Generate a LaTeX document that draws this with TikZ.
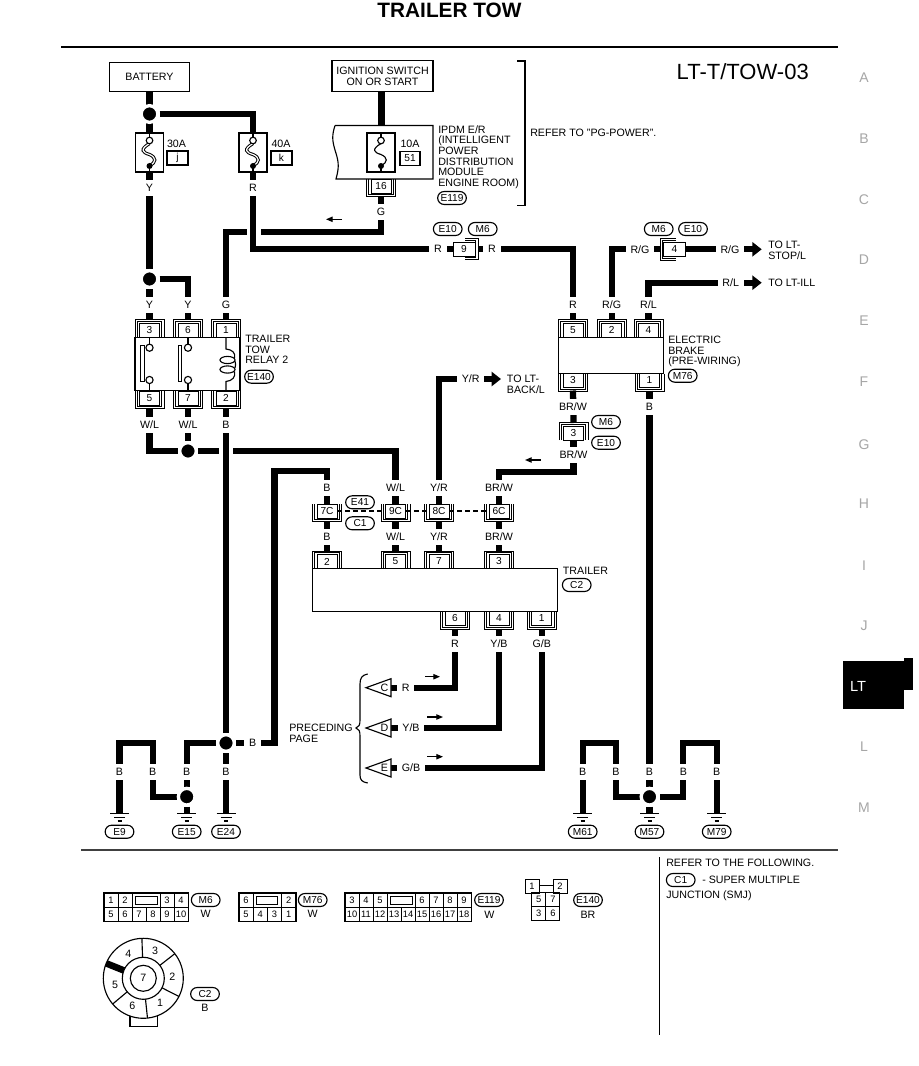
\documentclass[tikz,border=0pt]{standalone}
\usepackage{fontspec}
\setmainfont{Liberation Sans}
\usetikzlibrary{arrows.meta,shapes.misc,calc}
\pgfdeclarelayer{bg}\pgfdeclarelayer{wires}\pgfsetlayers{bg,wires,main}
\newcommand{\labf}{\fontsize{8}{8}\selectfont}
\newcommand{\pinf}{\fontsize{7.6}{7.6}\selectfont}
\newcommand{\cellf}{\fontsize{7}{7}\selectfont}
\tikzset{
 ln/.style={line width=0.85pt},
 brk/.style={line width=0.6pt},
 wire/.style={line width=4.7pt,line join=miter},
 wiretip/.style={wire,-{Triangle[length=7pt,width=10.5pt,inset=0pt]}},
 thintip/.style={line width=0.9pt,-{Triangle[length=5pt,width=4pt,inset=0pt]}},
 wirelab/.style={fill=white,inner xsep=3.5pt,inner ysep=0pt,minimum height=12pt,font=\labf},
 txt/.style={font=\labf,inner sep=0pt},
 blocktxt/.style={font=\labf,inner sep=0pt,anchor=north west,align=left},
 pinbox/.style={draw,line width=0.7pt,fill=white,minimum width=15pt,minimum height=10.5pt,inner sep=0pt,font=\pinf},
 tagbox/.style={draw,ln,fill=white,minimum width=15.75pt,minimum height=10.5pt,inner sep=0pt,font=\pinf},
 compbox/.style={draw,ln,fill=white,inner sep=0pt},
 ovaltag/.style={rounded rectangle,draw,ln,fill=white,minimum width=21.5pt,minimum height=9.75pt,inner sep=0pt,font=\pinf},
 jdot/.style={circle,fill=black,draw=white,line width=2.5pt,minimum size=12.5pt,inner sep=0pt},
 opendot/.style={draw,ln,fill=white},
 cellbox/.style={draw,line width=0.7pt,minimum width=10.5pt,minimum height=10.5pt,inner sep=0pt,font=\cellf},
 slotbox/.style={draw,line width=0.7pt,minimum width=21pt,minimum height=10.5pt,inner sep=0pt},
 tabletter/.style={font=\fontsize{10.5}{10.5}\selectfont,text=black!35,inner sep=0pt},
}
\newcommand{\PinUp}[4]{%
 \node[pinbox] (#1) at (#2,#3) {#4};
 \begin{scope}[shift={(#2,#3)}]
 \draw[brk] (-14.5,7) -- (-14.5,-10.4) -- (14.5,-10.4) -- (14.5,7);
 \draw[brk] (-12.3,7) -- (-12.3,-8.7) -- (12.3,-8.7) -- (12.3,7);
 \coordinate (#1o) at (0,-10);
 \end{scope}}
\newcommand{\PinDn}[4]{%
 \node[pinbox] (#1) at (#2,#3) {#4};
 \begin{scope}[shift={(#2,#3)}]
 \draw[brk] (-14.5,-7) -- (-14.5,10.4) -- (14.5,10.4) -- (14.5,-7);
 \draw[brk] (-12.3,-7) -- (-12.3,8.7) -- (12.3,8.7) -- (12.3,-7);
 \coordinate (#1o) at (0,10);
 \end{scope}}
\newcommand{\OvalTag}[4]{\node[ovaltag] (#1) at (#2,#3) {#4};}
\newcommand{\WL}[4]{\node[wirelab] (#1) at (#2,#3) {#4};}
\newcommand{\FuseSym}[3]{% name x, double or single curve style
 \node[compbox,minimum width=21pt,minimum height=29.25pt] (#1) at (#2,152.5) {};
 \begin{scope}[shift={(#2,152.5)}]
 \draw[ln] (0,-19.5) -- (0,-12);
 \draw[ln] (0,13) -- (0,19.5);
 \draw[#3] (0,-9) .. controls (-10,-3) and (-7,0) .. (0,2) .. controls (7,5) and (7,10) .. (0,13);
 \draw[opendot] (0,-12) circle[radius=3.3];
 \fill (0,13.5) circle[radius=3];
 \end{scope}}
\newcommand{\GndSym}[3]{%
 \coordinate (g#1) at (#2,813.5);
 \begin{scope}[shift={(#2,813.5)}]
 \draw[ln] (-9.5,0) -- (9.5,0);
 \draw[ln] (-5.5,3.8) -- (5.5,3.8);
 \draw[ln] (-2,7.5) -- (2,7.5);
 \end{scope}
 \OvalTag{ov#1}{#2}{831.7}{#3}}
\newcommand{\TriTag}[3]{%
 \draw[ln,fill=white] (366,#2) -- (391,#2-9) -- (391,#2+9) -- cycle;
 \node[txt] (tri#1) at (384.5,#2) {#3};
 \coordinate (tri#1e) at (391,#2);}
\newcommand{\DirArrow}[4]{%
 \coordinate (#1s) at (#2,#4);
 \coordinate (#1e) at (#3,#4);
 \draw[thintip] (#1s) -- (#1e);}
\begin{document}
\begin{tikzpicture}[x=0.75pt,y=-0.75pt]
\begin{pgfonlayer}{bg}
\fill[white] (0,0) rectangle (918,1066);
\end{pgfonlayer}
\useasboundingbox (0,0) rectangle (918,1066);

% header
\node[font=\bfseries\fontsize{15.6}{16}\selectfont,inner sep=0pt] (title) at (449.5,10) {TRAILER TOW};
\draw[line width=2.2pt] (61,47) -- (838,47);
\node[font=\fontsize{16.5}{18}\selectfont,inner sep=0pt,anchor=east] (pageid) at (809,72) {LT-T/TOW-03};

% side tabs
\foreach \tabT/\tabY in {A/78,B/139,C/200,D/260,E/321,F/382,G/445,H/504,I/566,J/626,L/747,M/808}
 {\node[tabletter] (tab\tabT) at (864,\tabY) {\tabT};}
\fill (842.7,660.7) rectangle (904,709.3);
\fill (904,658) rectangle (913,690);
\node[font=\fontsize{11}{11}\selectfont,text=white,inner sep=0pt] (tabLT) at (858,686) {LT};

% sources
\node[compbox,minimum width=60pt,minimum height=22pt,font=\labf] (bat) at (149.5,77.2) {BATTERY};
\node[compbox,minimum width=75.8pt,minimum height=23.4pt,font=\labf,align=center] (ign) at (382.5,76.3) {IGNITION SWITCH\\ON OR START};

% fuses
\FuseSym{fj}{149.5}{line width=0.75pt,double=white,double distance=0.9pt}
\FuseSym{fk}{253}{line width=0.75pt,double=white,double distance=0.9pt}
\node[txt] (a30) at (176.5,144) {30A};
\node[tagbox] (tagj) at (177.5,158) {j};
\node[txt] (a40) at (281,144) {40A};
\node[tagbox] (tagk) at (281.5,158) {k};

% IPDM
\draw[ln,fill=white] (335,125.5) -- (433,125.5) -- (433,179) -- (336,179) .. controls (340,165) and (338,160) .. (335,150) .. controls (332,140) and (332,135) .. (335,125.5);
\coordinate (ipdmtop) at (381.5,125.5);
\FuseSym{fl}{381}{ln}
\node[txt] (a10) at (410,144) {10A};
\node[tagbox,minimum width=15pt] (tagl) at (410,158.5) {51};
\PinDn{p16}{381}{186}{16}
\node[blocktxt] (ipdmt) at (438,125.2) {IPDM E/R\\(INTELLIGENT\\POWER\\DISTRIBUTION\\MODULE\\ENGINE ROOM)};
\OvalTag{ovE119a}{452}{198}{E119}
\draw[ln] (517,61) -- (525,61) -- (525,205.7) -- (517,205.7);
\node[txt,anchor=west] (refpg) at (530,133) {REFER TO "PG-POWER".};

% connector 9
\node[pinbox,minimum width=16.5pt,minimum height=11pt] (c9) at (464,249.3) {9};
\draw[brk] (465,238.5) -- (478,238.5) -- (478,259.7) -- (465,259.7);
\draw[brk] (465,240.5) -- (475.7,240.5) -- (475.7,257.7) -- (465,257.7);
\coordinate (c9o) at (478,249.3);
\OvalTag{ovE10a}{447.7}{229}{E10}
\OvalTag{ovM6a}{482.7}{229}{M6}

% connector 4
\node[pinbox,minimum width=16pt,minimum height=11pt] (c4) at (674.5,249.3) {4};
\draw[brk] (676,238.5) -- (660,238.5) -- (660,260) -- (676,260);
\draw[brk] (676,240.5) -- (662.1,240.5) -- (662.1,258) -- (676,258);
\coordinate (c4o) at (660,249.3);
\OvalTag{ovM6b}{658.7}{229}{M6}
\OvalTag{ovE10b}{693}{229}{E10}

% relay
\node[compbox,minimum width=78.75pt,minimum height=40pt] (relay) at (187.5,364) {};
\PinUp{pr3}{149.5}{330}{3}
\PinUp{pr6}{188}{330}{6}
\PinUp{pr1}{226}{330}{1}
\PinDn{pr5}{149.5}{398}{5}
\PinDn{pr7}{188}{398}{7}
\PinDn{pr2}{226}{398}{2}
\foreach \sw/\bx in {149.5/140.7,188/178.3}{
 \draw[ln] (\sw,337.5) -- (\sw,344);
 \draw[ln] (\sw,384) -- (\sw,391);
 \draw[opendot] (\sw,347.7) circle[radius=3.6];
 \draw[opendot] (\sw,380) circle[radius=3.6];
 \draw[ln] (\bx,345.7) rectangle (\bx+3.6,381.7);
}
\draw[ln] (226,337.5) -- (226,349) .. controls (232,349.5) and (236,353) .. (234.5,358);
\draw[ln] (227.5,360) ellipse[x radius=7.5,y radius=3.6];
\draw[ln] (227.5,369.5) ellipse[x radius=7.5,y radius=3.6];
\draw[ln] (235,361) .. controls (235.8,363) and (235.8,366) .. (235,368);
\draw[ln] (234.5,371.5) .. controls (236,377) and (232,381) .. (226,381.5) -- (226,391);
\node[blocktxt] (relayt) at (245,334.8) {TRAILER\\TOW\\RELAY 2};
\OvalTag{ovE140a}{259}{376.7}{E140}

% electric brake
\node[compbox,minimum width=78.75pt,minimum height=27pt] (brake) at (610.8,355.3) {};
\PinUp{pb5}{573}{330}{5}
\PinUp{pb2}{611.7}{330}{2}
\PinUp{pb4}{648.5}{330}{4}
\PinDn{pb3}{573}{380.5}{3}
\PinDn{pb1}{649.5}{380.5}{1}
\node[blocktxt] (braket) at (668,335.8) {ELECTRIC\\BRAKE\\(PRE-WIRING)};
\OvalTag{ovM76a}{682.7}{375.7}{M76}

% connector 3 (M6/E10)
\PinUp{pm3}{573.5}{433}{3}
\OvalTag{ovM6c}{606}{422}{M6}
\OvalTag{ovE10c}{606}{442.7}{E10}

% SMJ connectors
\PinDn{p7c}{327}{511}{7C}
\PinDn{p9c}{395.5}{511}{9C}
\PinDn{p8c}{439}{511}{8C}
\PinDn{p6c}{499}{511}{6C}
\OvalTag{ovE41}{360}{502.3}{E41}
\OvalTag{ovC1a}{360}{523.3}{C1}

% trailer
\node[compbox,minimum width=183.75pt,minimum height=32.4pt] (trailer) at (435.2,590) {};
\PinUp{pt2}{327}{561.5}{2}
\PinUp{pt5}{395.5}{561.5}{5}
\PinUp{pt7}{439}{561.5}{7}
\PinUp{pt3}{499}{561.5}{3}
\PinDn{pt6}{455}{618.5}{6}
\PinDn{pt4}{499}{618.5}{4}
\PinDn{pt1}{541.7}{618.5}{1}
\node[txt,anchor=west] (trailert) at (562.7,570.7) {TRAILER};
\OvalTag{ovC2a}{576.7}{585}{C2}

% preceding page
\TriTag{C}{687.7}{C}
\TriTag{D}{728}{D}
\TriTag{E}{768}{E}
\draw[ln] (367.7,674) .. controls (362,675) and (360,678) .. (360,684) -- (360,720) .. controls (360,725) and (359,727) .. (356,728) .. controls (359,729) and (360,731) .. (360,736) -- (360,775) .. controls (360,780) and (362,782) .. (367.7,783);
\node[blocktxt] (prect) at (289,724) {PRECEDING\\PAGE};

% junction dots
\node[jdot] (d1) at (149.5,114) {};
\node[jdot] (d2) at (149.5,279) {};
\node[jdot] (d3) at (188,451) {};
\node[jdot] (d4) at (226,743) {};
\node[jdot] (d5) at (186.7,796.7) {};
\node[jdot] (d6) at (649.5,796.7) {};

% grounds
\GndSym{9}{119.5}{E9}
\GndSym{15}{186.7}{E15}
\GndSym{24}{226}{E24}
\GndSym{61}{582.7}{M61}
\GndSym{57}{649.5}{M57}
\GndSym{79}{716.7}{M79}

% wire labels
\WL{wa}{149.5}{188}{Y}
\WL{wb}{253}{188}{R}
\WL{wc}{381}{212}{G}
\WL{wd}{438}{249.3}{R}
\WL{we}{492}{249.3}{R}
\WL{wf}{149.5}{305}{Y}
\WL{wg}{188}{305}{Y}
\WL{wh}{226}{305}{G}
\WL{wi}{573}{305}{R}
\WL{wj}{611.7}{305}{R/G}
\WL{wk}{648.5}{305}{R/L}
\WL{wl}{640}{249.3}{R/G}
\WL{wm}{730}{249.3}{R/G}
\WL{wn}{730.7}{282.7}{R/L}
\WL{wo}{470.7}{379}{Y/R}
\WL{wp}{149.5}{425}{W/L}
\WL{wq}{188}{425}{W/L}
\WL{wr}{226}{425}{B}
\WL{ws}{573}{407}{BR/W}
\WL{wt}{649.5}{407}{B}
\WL{wu}{573.5}{455}{BR/W}
\WL{wv}{327}{488}{B}
\WL{ww}{395.5}{488}{W/L}
\WL{wx}{439}{488}{Y/R}
\WL{wy}{499}{488}{BR/W}
\WL{xa}{327}{536.7}{B}
\WL{xb}{395.5}{536.7}{W/L}
\WL{xc}{439}{536.7}{Y/R}
\WL{xd}{499}{536.7}{BR/W}
\WL{xe}{455}{644}{R}
\WL{xf}{499}{644}{Y/B}
\WL{xg}{541.7}{644}{G/B}
\WL{xh}{405.7}{687.7}{R}
\WL{xi}{411}{728}{Y/B}
\WL{xj}{411}{768}{G/B}
\WL{xk}{252.7}{743}{B}
\foreach \bX/\bN in {119.5/ya,152.7/yb,186.7/yc,226/yd,582.7/ye,616/yf,649.5/yg,683.3/yh,716.7/yi}
 {\WL{\bN}{\bX}{772}{B}}

% direction arrows
\DirArrow{da}{342}{326}{219.3}
\DirArrow{db}{540.7}{525}{460}
\DirArrow{dc}{425}{440}{676.7}
\DirArrow{dd}{427}{443}{717}
\DirArrow{de}{427}{443}{756.7}

% arrow text
\node[blocktxt] (toback) at (506.7,375) {TO LT-\\BACK/L};
\node[blocktxt] (tostop) at (768,241) {TO LT-\\STOP/L};
\node[txt,anchor=west] (toill) at (768,283) {TO LT-ILL};

% bend points
\coordinate (gA) at (260.5,231.7);
\coordinate (gB) at (246.5,231.7);
\coordinate (wlA) at (219,451);
\coordinate (wlB) at (233,451);
\coordinate (t1) at (152.7,743);
\coordinate (t2) at (274.5,471);
\coordinate (t3) at (499,471.7);
\coordinate (t61) at (616,743);
\coordinate (t79) at (683.3,743);
\coordinate (aYR) at (501,379);
\coordinate (aRG) at (761.7,249.3);
\coordinate (aRL) at (761.7,282.7);

\begin{pgfonlayer}{wires}
\draw[wire] (bat.south) -- (fj.north);
\draw[wire] (d1) -| (fk.north);
\draw[wire] (fj.south) -- (d2);
\draw[wire] (d2) -- (pr3o);
\draw[wire] (d2) -| (pr6o);
\draw[wire] (fk.south) |- (c9.west);
\draw[wire] (c9o) -| (pb5o);
\draw[wire] (ign.south -| ipdmtop) -- (ipdmtop);
\draw[wire] (p16o) |- (gA);
\draw[wire] (gB) -| (pr1o);
\draw[wire] (pr5o) |- (d3);
\draw[wire] (pr7o) -- (d3);
\draw[wire] (d3) -- (wlA);
\draw[wire] (wlB) -| (p9c.north);
\draw[wire] (pr2o) -- (d4);
\draw[wire] (d4) -- (g24);
\draw[wire] (d4) -| (d5);
\draw[wire] (d5) -- (g15);
\draw[wire] (g9) |- (t1) |- (d5);
\draw[wire] (d4) -| (t2) -| (p7c.north);
\draw[wire] (p7co) -- (pt2o);
\draw[wire] (p9co) -- (pt5o);
\draw[wire] (p8co) -- (pt7o);
\draw[wire] (p6co) -- (pt3o);
\draw[wiretip] (p8c.north) |- (aYR);
\draw[wire] (pb2o) |- (c4o);
\draw[wiretip] (c4.east) -- (aRG);
\draw[wiretip] (pb4o) |- (aRL);
\draw[wire] (pb3o) -- (pm3o);
\draw[wire] (pm3.south) |- (t3) -- (p6c.north);
\draw[wire] (pb1o) -- (d6);
\draw[wire] (d6) -- (g57);
\draw[wire] (g61) |- (t61) |- (d6);
\draw[wire] (g79) |- (t79) |- (d6);
\draw[wire] (pt6o) |- (triCe);
\draw[wire] (pt4o) |- (triDe);
\draw[wire] (pt1o) |- (triEe);
\draw[ln,dash pattern=on 3.5pt off 2.5pt] (p7c.east) -- (p9c.west);
\draw[ln,dash pattern=on 3.5pt off 2.5pt] (p9c.east) -- (p8c.west);
\draw[ln,dash pattern=on 3.5pt off 2.5pt] (p8c.east) -- (p6c.west);
\end{pgfonlayer}

% lower panel
\draw[line width=1.1pt,black!75] (81,850) -- (838,850);
\draw[line width=0.9pt] (659.5,857) -- (659.5,1035);
\node[txt,anchor=west] (nt1) at (666,863) {REFER TO THE FOLLOWING.};
\OvalTag{ovC1b}{680.7}{880}{C1}
\node[txt,anchor=west] (nt2) at (702,880) {- SUPER MULTIPLE};
\node[txt,anchor=west] (nt3) at (666,896) {JUNCTION (SMJ)};

% M6 connector
\foreach \cT [count=\cI from 0] in {5,6,7,8,9,10}
 {\node[cellbox] (mb\cI) at ({111+14*\cI},914) {\cT};}
\foreach \cT/\cX/\cN in {1/111/a,2/125/b,3/167/c,4/181/d}
 {\node[cellbox] (mt\cN) at (\cX,900) {\cT};}
\node[slotbox] (ms) at (146,900) {};
\draw[line width=0.7pt] (135,896.5) rectangle (157.5,904);
\draw[line width=1.1pt] (mta.north west) rectangle (mb5.south east);
\OvalTag{ovM6d}{205.7}{900}{M6}
\node[txt] (m6w) at (205.7,914) {W};

% M76 connector
\foreach \cT [count=\cI from 0] in {5,4,3,1}
 {\node[cellbox] (nb\cI) at ({246+14.2*\cI},914) {\cT};}
\node[cellbox] (nta) at (246,900) {6};
\node[cellbox] (ntb) at (288.6,900) {2};
\node[slotbox] (ns) at (267.3,900) {};
\draw[line width=0.7pt] (256,896.5) rectangle (277.7,904);
\draw[line width=1.1pt] (nta.north west) rectangle (nb3.south east);
\OvalTag{ovM76b}{312.7}{900}{M76}
\node[txt] (m76w) at (312.7,914) {W};

% E119 connector
\foreach \cT [count=\cI from 0] in {10,11,12,13,14,15,16,17,18}
 {\node[cellbox] (eb\cI) at ({352+14*\cI},914) {\cT};}
\foreach \cT/\cX/\cN in {3/352/a,4/366/b,5/380/c,6/422/d,7/436/e,8/450/f,9/464/g}
 {\node[cellbox] (et\cN) at (\cX,900) {\cT};}
\node[slotbox] (es) at (401,900) {};
\draw[line width=0.7pt] (390,896.5) rectangle (412,904);
\draw[line width=1.1pt] (eta.north west) rectangle (eb8.south east);
\OvalTag{ovE119b}{489}{900}{E119}
\node[txt] (e119w) at (489.5,915) {W};

% E140 connector
\node[cellbox] (ra) at (532,886) {1};
\node[cellbox] (rb) at (560,886) {2};
\node[cellbox] (rc) at (538.7,899) {5};
\node[cellbox] (rd) at (552.9,899) {7};
\node[cellbox] (re) at (538.7,913.5) {3};
\node[cellbox] (rf) at (552.9,913.5) {6};
\draw[line width=0.7pt] (ra.east |- 0,885) -- (rb.west |- 0,885);
\OvalTag{ovE140b}{588}{900}{E140}
\node[txt] (e140w) at (588,915) {BR};

% C2 round connector
\coordinate (c2c) at (143.3,978.3);
\draw[ln] (130,1005) -- (130,1026.7) -- (157.7,1026.7) -- (157.7,1005);
\node[circle,draw,ln,fill=white,minimum size=60pt,inner sep=0pt] (c2out) at (c2c) {};
\foreach \segA in {-92,-38,27,84,140}
 {\draw[ln] ($(c2c)+(\segA:21)$) -- ($(c2c)+(\segA:40)$);}
\draw[line width=5pt] ($(c2c)+(-158:21)$) -- ($(c2c)+(-158:40)$);
\node[circle,draw,ln,fill=white,minimum size=31.5pt,inner sep=0pt] (c2ring) at (c2c) {};
\node[circle,draw,ln,fill=white,minimum size=19.5pt,inner sep=0pt,font=\labf] (c2seven) at (c2c) {7};
\node[txt] (s3) at (155,951) {3};
\node[txt] (s4) at (128.3,954.3) {4};
\node[txt] (s5) at (115,985) {5};
\node[txt] (s6) at (132.3,1005.7) {6};
\node[txt] (s1) at (160,1003.3) {1};
\node[txt] (s2) at (172.3,976.7) {2};
\OvalTag{ovC2b}{205}{994}{C2}
\node[txt] (c2b) at (205,1008) {B};
\end{tikzpicture}
\end{document}
